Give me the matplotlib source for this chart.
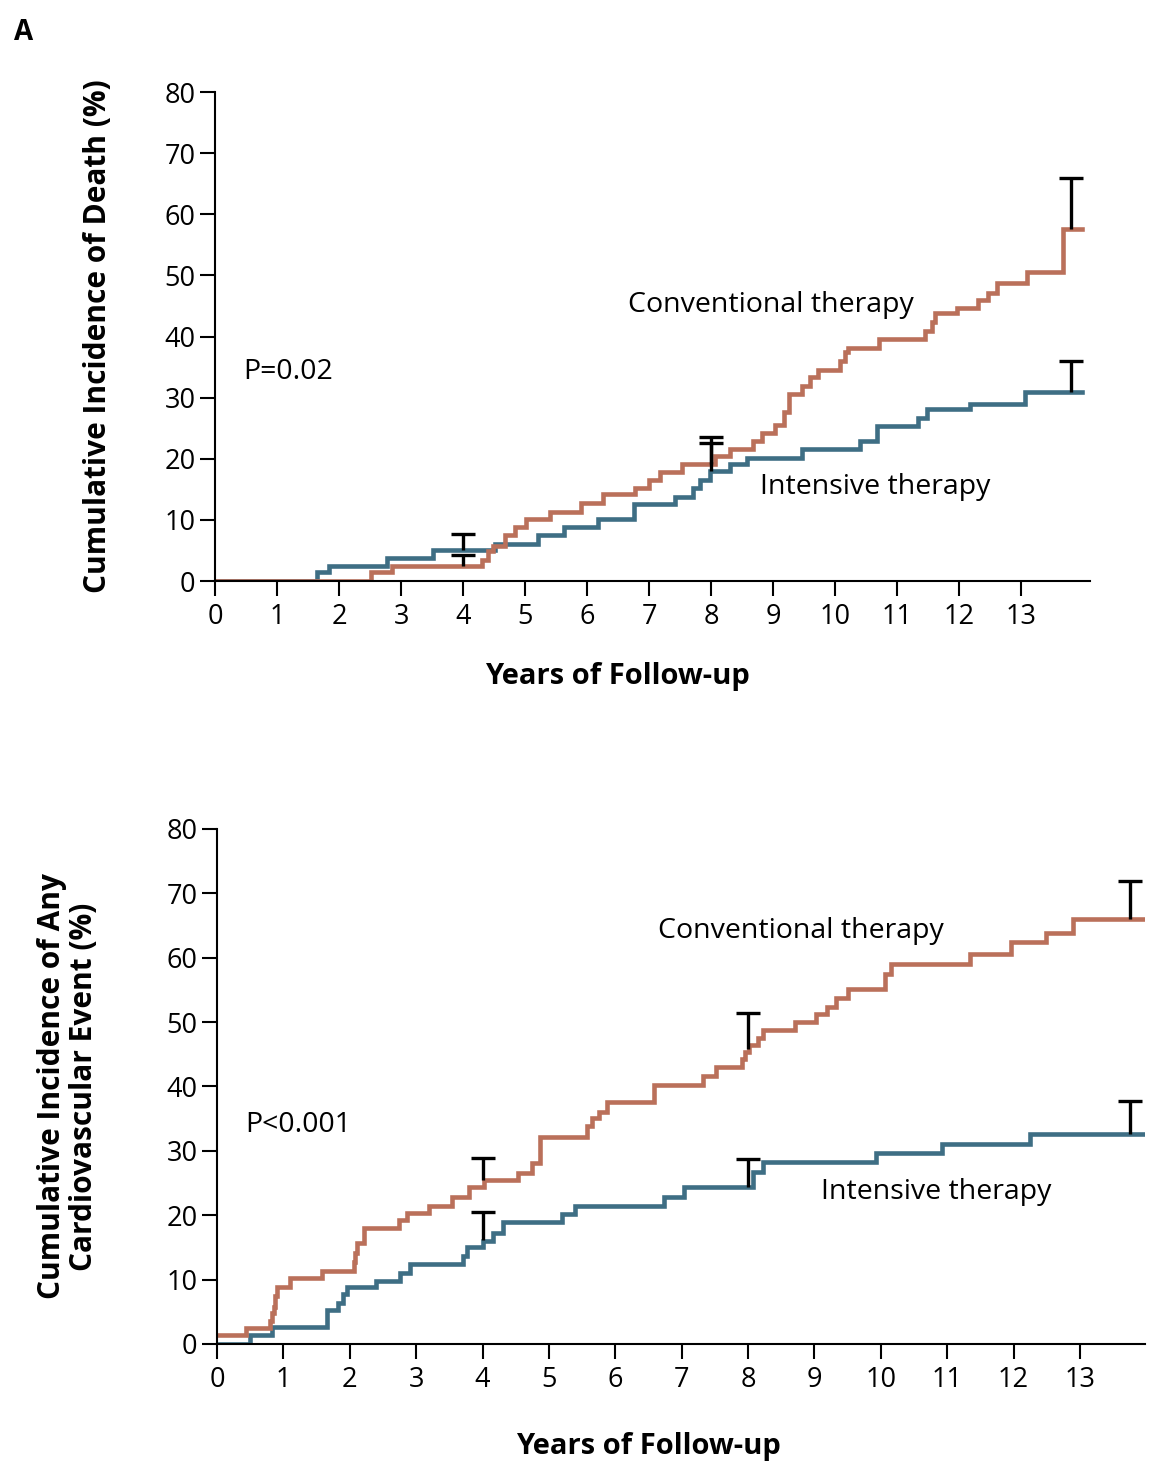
import numpy as np
import matplotlib
matplotlib.use("Agg")
import matplotlib.pyplot as plt

plt.rcParams['font.family'] = ['Open Sans', 'DejaVu Sans']

# colours
RED = '#BA705A'
BLUE = '#3E6E84'

# ---- panel 1: death ----
death_conv_t = [0, 2.52, 2.85, 4.31, 4.40, 4.48, 4.67, 4.83, 5.02, 5.40, 5.90, 6.26,
                6.77, 6.99, 7.18, 7.53, 8.06, 8.31, 8.68, 8.82, 9.03, 9.17, 9.25,
                9.46, 9.60, 9.73, 10.08, 10.16, 10.21, 10.70, 11.45, 11.56, 11.61,
                11.96, 12.31, 12.47, 12.61, 13.09, 13.68, 13.98]
death_conv_y = [0, 1.4, 2.4, 3.5, 4.9, 5.7, 7.6, 8.9, 10.2, 11.3, 12.7, 14.2,
                15.3, 16.5, 17.8, 19.1, 20.5, 21.6, 22.9, 24.3, 25.6, 27.6, 30.6,
                31.9, 33.3, 34.5, 36.0, 37.4, 38.2, 39.6, 40.9, 42.3, 43.8,
                44.7, 46.0, 47.2, 48.8, 50.5, 57.6, 57.6]

death_int_t = [0, 1.64, 1.83, 2.77, 3.52, 4.52, 5.21, 5.62, 6.18, 6.75, 7.42, 7.71,
               7.82, 7.98, 8.31, 8.58, 9.46, 10.40, 10.67, 11.34, 11.48, 12.18,
               13.06, 13.98]
death_int_y = [0, 1.4, 2.5, 3.7, 5.1, 6.0, 7.5, 8.9, 10.2, 12.6, 13.8, 15.3,
               16.6, 18.0, 19.1, 20.2, 21.6, 22.9, 25.4, 26.7, 28.1, 28.9,
               30.9, 30.9]

# error bars: (x, curve value, upper limit)
death_conv_err = [(4.0, 2.4, 4.3), (8.0, 19.1, 23.6), (13.8, 57.6, 65.9)]
death_int_err = [(4.0, 5.1, 7.7), (8.0, 18.0, 22.6), (13.8, 30.9, 36.0)]

# ---- panel 2: any cardiovascular event ----
cv_conv_t = [0, 0.43, 0.80, 0.83, 0.86, 0.88, 0.91, 1.10, 1.58, 2.06, 2.08, 2.11,
             2.21, 2.74, 2.86, 3.19, 3.54, 3.79, 4.02, 4.54, 4.74, 4.87, 5.57,
             5.65, 5.75, 5.88, 6.58, 7.32, 7.51, 7.91, 7.96, 8.01, 8.15, 8.23,
             8.71, 9.03, 9.19, 9.32, 9.51, 10.07, 10.15, 11.35, 11.96, 12.49,
             12.89, 13.98]
cv_conv_y = [1.4, 2.5, 3.5, 4.8, 5.8, 7.4, 8.9, 10.2, 11.4, 12.8, 14.1, 15.7,
             18.0, 19.3, 20.3, 21.5, 22.9, 24.4, 25.5, 26.6, 28.1, 32.1, 33.8,
             35.1, 36.1, 37.6, 40.3, 41.7, 43.0, 44.3, 45.3, 46.4, 47.6, 48.7,
             50.0, 51.3, 52.3, 53.8, 55.1, 57.5, 59.1, 60.6, 62.4, 63.9,
             66.0, 66.0]

cv_int_t = [0, 0.50, 0.83, 1.65, 1.83, 1.90, 1.96, 2.39, 2.76, 2.91, 3.71, 3.76,
            4.00, 4.16, 4.31, 5.19, 5.39, 6.74, 7.03, 8.07, 8.23, 9.93, 10.92,
            12.25, 13.98]
cv_int_y = [0, 1.4, 2.6, 5.2, 6.4, 7.8, 8.8, 9.8, 11.1, 12.5, 13.7, 15.0,
            16.0, 17.3, 18.9, 20.2, 21.5, 22.8, 24.4, 26.7, 28.3, 29.6, 31.1,
            32.6, 32.6]

cv_conv_err = [(4.0, 25.5, 28.9), (8.0, 45.8, 51.4), (13.76, 66.0, 71.9)]
cv_int_err = [(4.0, 16.2, 20.5), (8.0, 24.4, 28.8), (13.76, 32.6, 37.8)]

tick_years = list(range(0, 14))
tick_pct = list(range(0, 90, 10))


def draw_panel(ax, conv_t, conv_y, int_t, int_y, errs, xmax, ylab, ptext, ptxt_xy,
               conv_xy, int_xy, xlab_coords, ylab_coords):
    ax.step(int_t, int_y, where='post', color=BLUE, lw=3.3, solid_joinstyle='miter')
    ax.step(conv_t, conv_y, where='post', color=RED, lw=3.3, solid_joinstyle='miter')
    for x, lo, hi in errs:
        ax.vlines(x, lo, hi, color='black', lw=2.4, zorder=5)
        ax.plot([x], [hi], marker='_', ms=17, mew=2.4, color='black', zorder=5)

    ax.set_xlim(0, xmax)
    ax.set_ylim(0, 80)
    ax.set_xticks(tick_years)
    ax.set_yticks(tick_pct)
    for s in ['top', 'right']:
        ax.spines[s].set_visible(False)
    ax.spines['left'].set_linewidth(1.5)
    ax.spines['bottom'].set_linewidth(1.5)
    ax.tick_params(axis='both', direction='out', length=11, width=1.5,
                   labelsize=19.5, pad=3)
    ax.tick_params(axis='x', pad=5)

    ax.set_xlabel('Years of Follow-up', fontsize=21, fontweight='bold')
    ax.xaxis.set_label_coords(*xlab_coords)
    ax.set_ylabel(ylab, fontsize=21.5, fontweight='bold', linespacing=1.1)
    ax.yaxis.set_label_coords(*ylab_coords)

    ax.text(ptxt_xy[0], ptxt_xy[1], ptext, fontsize=20.5, va='center', ha='left')
    ax.text(conv_xy[0], conv_xy[1], 'Conventional therapy', fontsize=20.5,
            va='center', ha='left')
    ax.text(int_xy[0], int_xy[1], 'Intensive therapy', fontsize=20.5,
            va='center', ha='left')


fig = plt.figure(figsize=(11.56, 14.61), dpi=100)

ax1 = fig.add_axes([0.186, 0.6023, 0.757, 0.3347])
draw_panel(ax1, death_conv_t, death_conv_y, death_int_t, death_int_y,
           death_conv_err + death_int_err, 14.11,
           'Cumulative Incidence of Death (%)', 'P=0.02', (0.45, 34.2),
           (6.66, 45.2), (8.79, 15.4), (0.46, -0.165), (-0.117, 0.5))

ax2 = fig.add_axes([0.1877, 0.0801, 0.8028, 0.3525])
draw_panel(ax2, cv_conv_t, cv_conv_y, cv_int_t, cv_int_y,
           cv_conv_err + cv_int_err, 13.98,
           'Cumulative Incidence of Any\nCardiovascular Event (%)', 'P<0.001', (0.42, 34.0),
           (6.64, 64.1), (9.10, 23.6), (0.465, -0.17), (-0.127, 0.5))

fig.text(0.012, 0.978, 'A', fontsize=20, fontweight='bold', va='center', ha='left')

fig.savefig('out.png', dpi=100, facecolor='white')
